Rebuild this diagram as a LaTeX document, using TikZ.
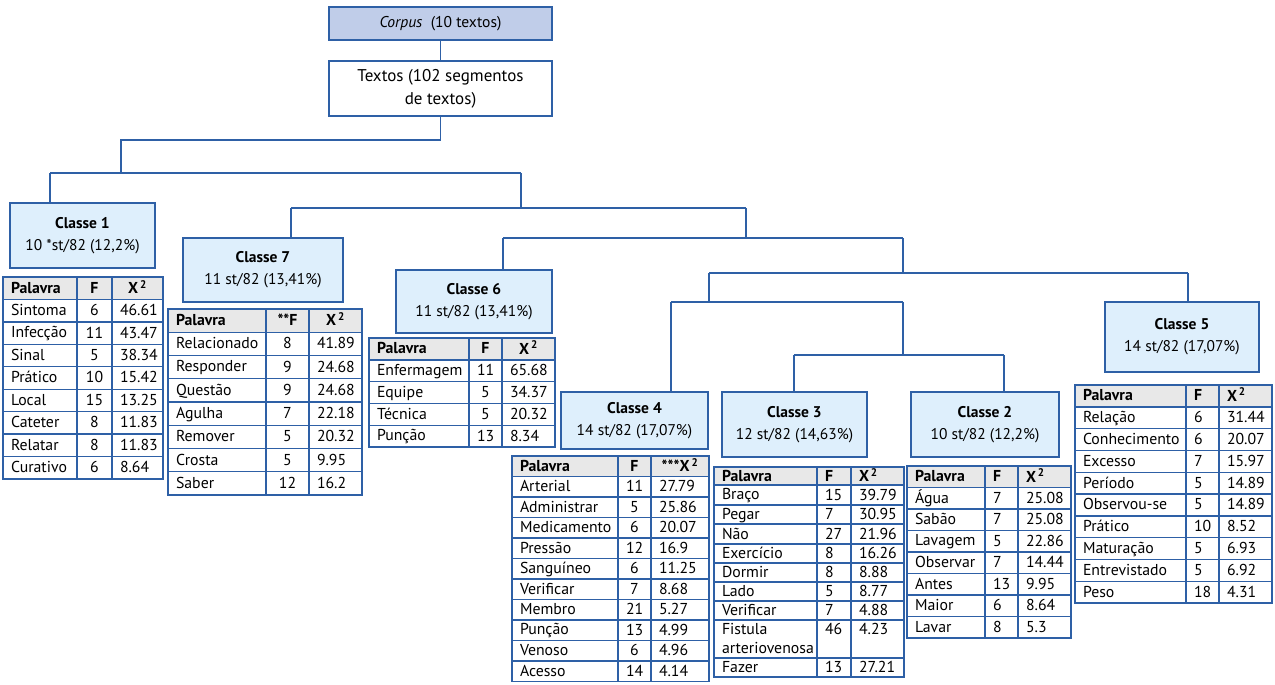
\documentclass[tikz,border=0pt]{standalone}
\usepackage{fontspec}
\setmainfont{PT Sans}
\usetikzlibrary{calc}
\definecolor{blu}{RGB}{46,96,166}
\definecolor{boxfill}{RGB}{222,239,252}
\definecolor{corpfill}{RGB}{192,205,233}
\definecolor{hdr}{RGB}{232,232,232}
\newcommand\tabfont{\fontsize{15.8}{19}\selectfont\hyphenpenalty=10000\exhyphenpenalty=10000}
\newcommand\cstrut{\rule[-2.5pt]{0pt}{15pt}}
\tikzset{
  cell/.style={draw=blu, line width=1.4pt, anchor=north west, inner xsep=8pt, inner ysep=0pt, outer sep=0pt, font=\tabfont},
  fcol/.style={align=center},
  hcell/.style={fill=hdr, font=\tabfont\bfseries},
  clsbox/.style={draw=blu, line width=1.8pt, fill=boxfill, align=center, font=\fontsize{15.5}{22}\selectfont, inner sep=0pt},
  conn/.style={draw=blu, line width=1.4pt}
}
% cell: name x0 y0 x1 y1 style text
\newcommand\cell[7]{%
  \pgfmathsetmacro\cw{#4-#2}\pgfmathsetmacro\ch{#5-#3}\pgfmathsetmacro\tw{#4-#2-16}%
  \node[cell,minimum width=\cw pt,minimum height=\ch pt,text width=\tw pt,#6] (#1) at (#2,#3) {\cstrut #7\cstrut};}
\newcommand\trow[6]{%
  \cell{#1a}{\xa}{#2}{\xb}{#3}{align=left}{#4}%
  \cell{#1b}{\xb}{#2}{\xc}{#3}{fcol}{#5}%
  \cell{#1c}{\xc}{#2}{\xd}{#3}{align=left}{#6}}
\newcommand\thead[5]{%
  \cell{#1a}{\xa}{#2}{\xb}{#3}{hcell,align=left}{Palavra}%
  \cell{#1b}{\xb}{#2}{\xc}{#3}{hcell,fcol}{#4}%
  \cell{#1c}{\xc}{#2}{\xd}{#3}{hcell,fcol}{#5}}
\newcommand\theadi[3]{%
  \pgfmathsetmacro\ya{\ytop}\pgfmathsetmacro\yb{\ytop+\rh}\thead{#1}{\ya}{\yb}{#2}{#3}}
\newcommand\trowi[5]{%
  \pgfmathsetmacro\ya{\ytop+#2*\rh}\pgfmathsetmacro\yb{\ytop+(#2+1)*\rh}\trow{#1}{\ya}{\yb}{#3}{#4}{#5}}
\newcommand\Xsq{\textbf{X}\textsuperscript{\,2}}
\begin{document}
\begin{tikzpicture}[x=1pt,y=-1pt]
\useasboundingbox (0,0) rectangle (1275,685);

% top boxes
\node[draw=blu, line width=1.8pt, fill=corpfill, minimum width=223pt, minimum height=33pt, inner sep=0pt, font=\fontsize{15.6}{18}\selectfont] (corpus) at (440.5,23.5) {\textit{Corpus}\ \ (10 textos)};
\node[draw=blu, line width=1.8pt, fill=white, minimum width=223pt, minimum height=55pt, inner sep=0pt, align=center, font=\fontsize{17}{23}\selectfont] (textos) at (440.5,88.5) {Textos (102 segmentos\\de textos)};

% class boxes
\node[clsbox, minimum width=145pt, minimum height=65pt] (c1) at (82.5,235.5) {\textbf{Classe 1}\\10 *st/82 (12,2\%)};
\node[clsbox, minimum width=160pt, minimum height=64pt] (c7) at (263,270) {\textbf{Classe 7}\\11 st/82 (13,41\%)};
\node[clsbox, minimum width=156pt, minimum height=63pt] (c6) at (474,301.5) {\textbf{Classe 6}\\11 st/82 (13,41\%)};
\node[clsbox, minimum width=147pt, minimum height=57pt] (c4) at (634.5,420.5) {\textbf{Classe 4}\\14 st/82 (17,07\%)};
\node[clsbox, minimum width=145pt, minimum height=65pt] (c3) at (794.5,424.5) {\textbf{Classe 3}\\12 st/82 (14,63\%)};
\node[clsbox, minimum width=148pt, minimum height=65pt] (c2) at (985,424.5) {\textbf{Classe 2}\\10 st/82 (12,2\%)};
\node[clsbox, minimum width=154pt, minimum height=70pt] (c5) at (1182,337) {\textbf{Classe 5}\\14 st/82 (17,07\%)};

% connectors
\coordinate (b0l) at (121,140);
\coordinate (b1m) at (121,173);
\coordinate (b1l) at (50,173);
\coordinate (b1r) at (521,173);
\coordinate (b2m) at (521,208);
\coordinate (b2l) at (291,208);
\coordinate (b2r) at (746,208);
\coordinate (b3m) at (746,238);
\coordinate (b3l) at (503,238);
\coordinate (b3r) at (903,238);
\coordinate (b4m) at (903,273);
\coordinate (b4l) at (709,273);
\coordinate (b4r) at (1188,273);
\coordinate (b5m) at (709,302);
\coordinate (b5l) at (671,302);
\coordinate (b5r) at (903,302);
\coordinate (b6m) at (903,355);
\coordinate (b6l) at (794,355);
\coordinate (b6r) at (1004,355);
\draw[conn] (corpus) -- (textos);
\draw[conn] (textos.south) |- (b0l) -- (b1m);
\draw[conn] (b1l) -- (b1r);
\draw[conn] (b1l) -- (b1l |- c1.north);
\draw[conn] (b1r) -- (b2m);
\draw[conn] (b2l) -- (b2r);
\draw[conn] (b2l) -- (b2l |- c7.north);
\draw[conn] (b2r) -- (b3m);
\draw[conn] (b3l) -- (b3r);
\draw[conn] (b3l) -- (b3l |- c6.north);
\draw[conn] (b3r) -- (b4m);
\draw[conn] (b4l) -- (b4r);
\draw[conn] (b4r) -- (b4r |- c5.north);
\draw[conn] (b4l) -- (b5m);
\draw[conn] (b5l) -- (b5r);
\draw[conn] (b5l) -- (b5l |- c4.north);
\draw[conn] (b5r) -- (b6m);
\draw[conn] (b6l) -- (b6r);
\draw[conn] (b6l) -- (b6l |- c3.north);
\draw[conn] (b6r) -- (b6r |- c2.north);

% Table Classe 1
\def\xa{3}\def\xb{77}\def\xc{112}\def\xd{163}\def\ytop{277}\def\rh{22.44}
\tikzset{fcol/.style={align=center}}
\theadi{ta0}{F}{\Xsq}
\trowi{ta1}{1}{Sintoma}{6}{46.61}
\trowi{ta2}{2}{Infecção}{11}{43.47}
\trowi{ta3}{3}{Sinal}{5}{38.34}
\trowi{ta4}{4}{Prático}{10}{15.42}
\trowi{ta5}{5}{Local}{15}{13.25}
\trowi{ta6}{6}{Cateter}{8}{11.83}
\trowi{ta7}{7}{Relatar}{8}{11.83}
\trowi{ta8}{8}{Curativo}{6}{8.64}

% Table Classe 7
\def\xa{168}\def\xb{266}\def\xc{309}\def\xd{362}\def\ytop{309}\def\rh{23.25}
\theadi{tg0}{**F}{\Xsq}
\trowi{tg1}{1}{Relacionado}{8}{41.89}
\trowi{tg2}{2}{Responder}{9}{24.68}
\trowi{tg3}{3}{Questão}{9}{24.68}
\trowi{tg4}{4}{Agulha}{7}{22.18}
\trowi{tg5}{5}{Remover}{5}{20.32}
\trowi{tg6}{6}{Crosta}{5}{9.95}
\trowi{tg7}{7}{Saber}{12}{16.2}

% Table Classe 6
\def\xa{369}\def\xb{469}\def\xc{502}\def\xd{555}\def\ytop{338}\def\rh{21.8}
\theadi{tf0}{F}{\Xsq}
\trowi{tf1}{1}{Enfermagem}{11}{65.68}
\trowi{tf2}{2}{Equipe}{5}{34.37}
\trowi{tf3}{3}{Técnica}{5}{20.32}
\trowi{tf4}{4}{Punção}{13}{8.34}

% Table Classe 4
\def\xa{512}\def\xb{618}\def\xc{651}\def\xd{709}\def\ytop{456}\def\rh{20.5}
\theadi{td0}{F}{***\Xsq}
\trowi{td1}{1}{Arterial}{11}{27.79}
\trowi{td2}{2}{Administrar}{5}{25.86}
\trowi{td3}{3}{Medicamento}{6}{20.07}
\trowi{td4}{4}{Pressão}{12}{16.9}
\trowi{td5}{5}{Sanguíneo}{6}{11.25}
\trowi{td6}{6}{Verificar}{7}{8.68}
\trowi{td7}{7}{Membro}{21}{5.27}
\trowi{td8}{8}{Punção}{13}{4.99}
\trowi{td9}{9}{Venoso}{6}{4.96}
\trowi{td10}{10}{Acesso}{14}{4.14}

% Table Classe 3
\tikzset{fcol/.style={align=left}}
\def\xa{714}\def\xb{817}\def\xc{851}\def\xd{904}
\thead{tc0}{467}{485}{F}{\Xsq}
\trow{tc1}{485}{505}{Braço}{15}{39.79}
\trow{tc2}{505}{524}{Pegar}{7}{30.95}
\trow{tc3}{524}{544}{Não}{27}{21.96}
\trow{tc4}{544}{563}{Exercício}{8}{16.26}
\trow{tc5}{563}{582}{Dormir}{8}{8.88}
\trow{tc6}{582}{601}{Lado}{5}{8.77}
\trow{tc7}{601}{620}{Verificar}{7}{4.88}
\trow{tc8}{620}{658}{Fistula\\arteriovenosa}{46\\\mbox{}}{4.23\\\mbox{}}
\trow{tc9}{658}{677}{Fazer}{13}{27.21}

% Table Classe 2
\def\xa{907}\def\xb{985}\def\xc{1018}\def\xd{1071}\def\ytop{466}\def\rh{21.5}
\theadi{tb0}{F}{\Xsq}
\trowi{tb1}{1}{Água}{7}{25.08}
\trowi{tb2}{2}{Sabão}{7}{25.08}
\trowi{tb3}{3}{Lavagem}{5}{22.86}
\trowi{tb4}{4}{Observar}{7}{14.44}
\trowi{tb5}{5}{Antes}{13}{9.95}
\trowi{tb6}{6}{Maior}{6}{8.64}
\trowi{tb7}{7}{Lavar}{8}{5.3}

% Table Classe 5
\def\xa{1075}\def\xb{1186}\def\xc{1219}\def\xd{1272}\def\ytop{385}\def\rh{21.8}
\theadi{te0}{F}{\Xsq}
\trowi{te1}{1}{Relação}{6}{31.44}
\trowi{te2}{2}{Conhecimento}{6}{20.07}
\trowi{te3}{3}{Excesso}{7}{15.97}
\trowi{te4}{4}{Período}{5}{14.89}
\trowi{te5}{5}{Observou-se}{5}{14.89}
\trowi{te6}{6}{Prático}{10}{8.52}
\trowi{te7}{7}{Maturação}{5}{6.93}
\trowi{te8}{8}{Entrevistado}{5}{6.92}
\trowi{te9}{9}{Peso}{18}{4.31}
\end{tikzpicture}
\end{document}
